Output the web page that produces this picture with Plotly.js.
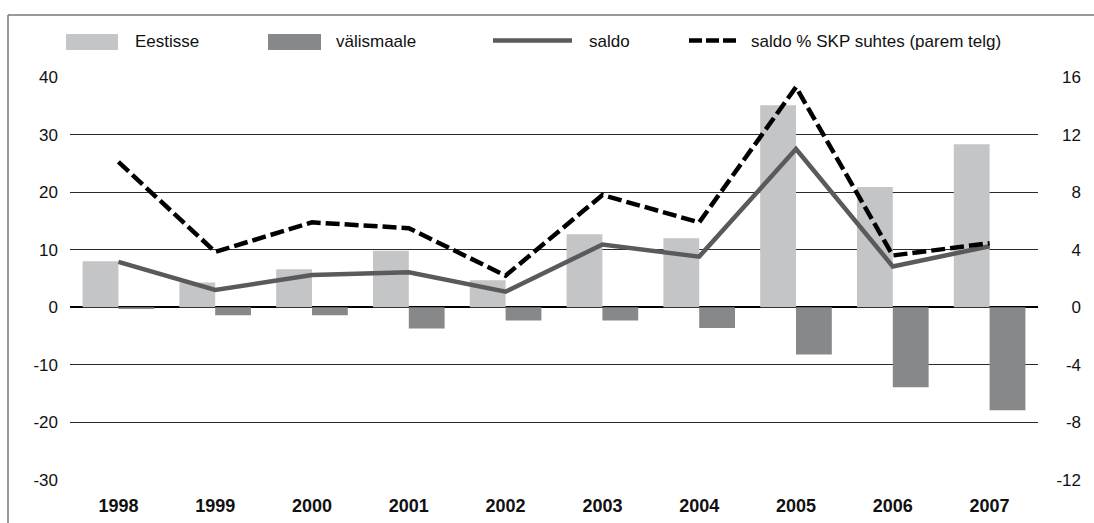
<!DOCTYPE html>
<html>
<head>
<meta charset="utf-8">
<script src="https://cdn.plot.ly/plotly-3.0.1.min.js"></script>
<style>
  html, body { margin: 0; padding: 0; background: #fff; }
  #chart { width: 1094px; height: 523px; }
</style>
</head>
<body>
<div id="chart"></div>
<script>
// ---- data ----
const years = ['1998','1999','2000','2001','2002','2003','2004','2005','2006','2007'];
const eestisse = [8.0, 4.3, 6.6, 9.8, 4.7, 12.7, 12.0, 35.1, 20.9, 28.3];
const valismaale = [-0.3, -1.4, -1.4, -3.7, -2.3, -2.3, -3.6, -8.2, -13.9, -17.9];
const saldo = [7.9, 3.0, 5.6, 6.1, 2.7, 10.9, 8.8, 27.5, 7.1, 10.6];
const saldoSKP = [10.1, 3.85, 5.9, 5.5, 2.2, 7.8, 5.9, 15.3, 3.6, 4.45];
const leftTicks = [-30, -20, -10, 0, 10, 20, 30, 40];
const leftTickText = ['-30', '-20', '-10', '0', '10', '20', '30', '40'];
const rightTicks = [-12, -8, -4, 0, 4, 8, 12, 16];
const rightTickText = ['-12', '-8', '-4', '0', '4', '8', '12', '16'];
const legendNames = ['Eestisse', 'välismaale', 'saldo', 'saldo % SKP suhtes (parem telg)'];

const FONT = 'Liberation Sans, Arial, sans-serif';
const C_EST = '#c4c5c7', C_VAL = '#87888a', C_SALDO = '#5a5a5c', C_SKP = '#000000';

const traces = [
  { type: 'bar', x: years, y: eestisse, name: legendNames[0], marker: { color: C_EST } },
  { type: 'bar', x: years, y: valismaale, name: legendNames[1], marker: { color: C_VAL } },
  { type: 'scatter', mode: 'lines', x: years, y: saldo, name: legendNames[2], line: { color: C_SALDO, width: 4.5 } },
  { type: 'scatter', mode: 'lines', x: years, y: saldoSKP, name: legendNames[3], yaxis: 'y2', line: { color: C_SKP, width: 4.5, dash: '14px,5px' } }
];

// pixel -> paper helpers (margins: l=70, r=9, t=77, b=43 ; paper 1015 x 403)
const PW = 1015, PH = 403, L = 70, B = 480;
const px = v => (v - L) / PW;
const py = v => (B - v) / PH;

const shapes = [
  // outer frame (left + top)
  { type: 'line', xref: 'paper', yref: 'paper', x0: px(8), x1: px(8), y0: py(530), y1: py(15), line: { color: '#777', width: 1.5 } },
  { type: 'line', xref: 'paper', yref: 'paper', x0: px(8), x1: px(1100), y0: py(15), y1: py(15), line: { color: '#777', width: 1.5 } },
  // legend symbols
  { type: 'rect', xref: 'paper', yref: 'paper', x0: px(66), x1: px(118), y0: py(50), y1: py(34), line: { width: 0 }, fillcolor: C_EST },
  { type: 'rect', xref: 'paper', yref: 'paper', x0: px(268), x1: px(321), y0: py(50), y1: py(34), line: { width: 0 }, fillcolor: C_VAL },
  { type: 'line', xref: 'paper', yref: 'paper', x0: px(493), x1: px(572), y0: py(40.5), y1: py(40.5), line: { color: C_SALDO, width: 4.5 } },
  { type: 'line', xref: 'paper', yref: 'paper', x0: px(689), x1: px(736), y0: py(40.5), y1: py(40.5), line: { color: C_SKP, width: 4.5, dash: '13px,4px' } }
];

const legendX = [133, 334, 587, 749];
const annotations = legendNames.map((t, i) => ({
  text: t, xref: 'paper', yref: 'paper', x: px(legendX[i]), y: py(41), xanchor: 'left', yanchor: 'middle',
  showarrow: false, font: { family: FONT, size: 17, color: '#111' }
}));

const layout = {
  width: 1094, height: 523,
  margin: { l: L, r: 9, t: 77, b: 43, pad: 0 },
  paper_bgcolor: '#fff', plot_bgcolor: '#fff',
  showlegend: false,
  barmode: 'group', bargap: 0.26, bargroupgap: 0,
  font: { family: FONT, size: 17, color: '#111' },
  xaxis: {
    type: 'category', domain: [0, 968 / PW],
    showgrid: false, showline: false, zeroline: false, ticks: '',
    tickfont: { family: FONT, size: 18, color: '#111', weight: 'bold' },
    ticklabelstandoff: 13
  },
  yaxis: {
    range: [-30, 40], tickvals: leftTicks, ticktext: leftTickText, showline: false, ticks: '',
    showgrid: true, gridcolor: '#2a2a2a', gridwidth: 1,
    zeroline: true, zerolinecolor: '#000', zerolinewidth: 2,
    tickfont: { family: FONT, size: 17, color: '#111' },
    ticklabelstandoff: 11
  },
  yaxis2: {
    range: [-12, 16], tickvals: rightTicks, ticktext: rightTickText, overlaying: 'y', anchor: 'free', side: 'left', position: 1,
    showgrid: false, zeroline: false, showline: false, ticks: '',
    tickfont: { family: FONT, size: 17, color: '#111' },
    ticklabelstandoff: 4
  },
  shapes: shapes,
  annotations: annotations
};

Plotly.newPlot('chart', traces, layout, { displayModeBar: false, staticPlot: true });
</script>
</body>
</html>
